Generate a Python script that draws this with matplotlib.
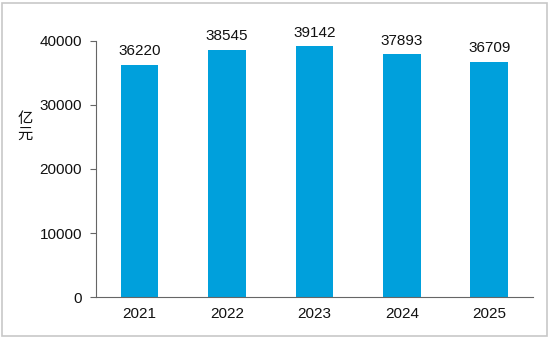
import matplotlib.pyplot as plt
from matplotlib.patches import Rectangle

years = ["2021", "2022", "2023", "2024", "2025"]
values = [36220, 38545, 39142, 37893, 36709]
unit = "亿\n元"

plt.rcParams['font.family'] = ['Liberation Sans', 'Noto Sans CJK SC', 'DejaVu Sans']
plt.rcParams['font.size'] = 11

fig = plt.figure(figsize=(5.5, 3.38), dpi=100)
ax = fig.add_axes([0.1745, 0.1213, 0.7945, 0.7574])

x = list(range(len(years)))
bars = ax.bar(x, values, width=0.43, color="#00A0DC")
for xi, v in zip(x, values):
    ax.annotate(str(v), (xi, v), xytext=(0, 5), textcoords="offset points",
                ha="center", va="bottom", fontsize=11, color="#111111")

ax.set_xlim(-0.5, 4.5)
ax.set_ylim(0, 40000)
ax.set_yticks([0, 10000, 20000, 30000, 40000])
ax.set_xticks(x)
ax.set_xticklabels(years)
ax.tick_params(axis="x", length=0, pad=7, labelsize=11, colors="#111111")
ax.tick_params(axis="y", length=4, width=0.8, pad=6, labelsize=11, color="#666666", labelcolor="#111111")

for s in ["top", "right"]:
    ax.spines[s].set_visible(False)
ax.spines["left"].set_color("#666666")
ax.spines["bottom"].set_color("#666666")
ax.spines["left"].set_linewidth(0.8)
ax.spines["bottom"].set_linewidth(0.8)

fig.text(25 / 550, 1 - 127 / 338, unit, ha="center", va="center", fontsize=11,
         linespacing=1.2, color="#111111")

fig.patches.append(Rectangle((2 / 550, 2 / 338), 545 / 550, 333 / 338,
                             transform=fig.transFigure, fill=False,
                             edgecolor="#c8c8c8", linewidth=1.2))

fig.savefig("out.png", dpi=100)
